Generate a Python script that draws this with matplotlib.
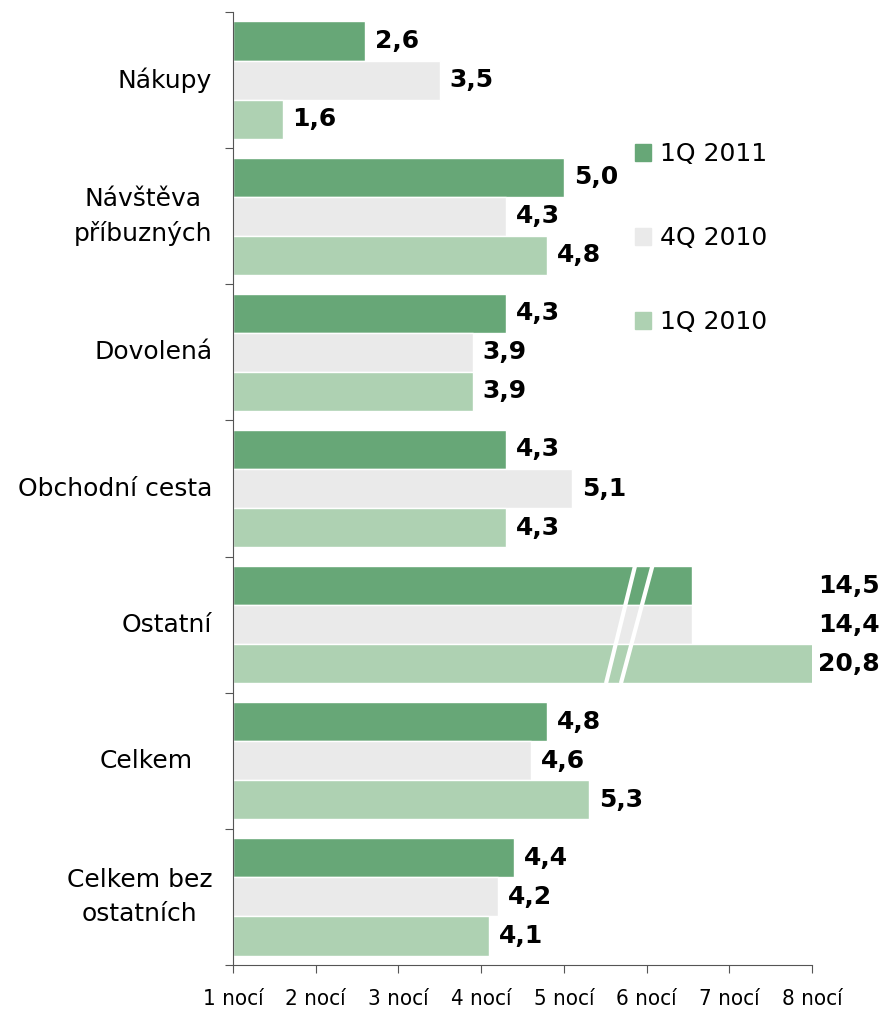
import matplotlib
matplotlib.use("Agg")
import matplotlib.pyplot as plt
from matplotlib.patches import Patch
import numpy as np

plt.rcParams['font.family'] = ['DejaVu Sans']

categories = ["Nákupy", "Návštěva\npříbuzných", "Dovolená", "Obchodní cesta",
              "Ostatní", "Celkem", "Celkem bez\nostatních"]
series = ["1Q 2011", "4Q 2010", "1Q 2010"]
q1_2011 = [2.6, 5.0, 4.3, 4.3, 14.5, 4.8, 4.4]
q4_2010 = [3.5, 4.3, 3.9, 5.1, 14.4, 4.6, 4.2]
q1_2010 = [1.6, 4.8, 3.9, 4.3, 20.8, 5.3, 4.1]
# the "Ostatni" bars are drawn shortened (axis break)
broken_idx = 4
broken_len = [6.55, 6.55, 8.05]
xticks = [1, 2, 3, 4, 5, 6, 7, 8]
xlabels = ["1 nocí", "2 nocí", "3 nocí", "4 nocí", "5 nocí", "6 nocí", "7 nocí", "8 nocí"]

colors = ["#67A777", "#EAEAEA", "#AED1B2"]

fig = plt.figure(figsize=(8.83, 10.11), dpi=100)
ax = fig.add_axes([233 / 883, 46 / 1011, 579 / 883, 953 / 1011])

y = np.arange(len(categories))
h = 0.287
offsets = [-h, 0, h]
for k, vals in enumerate([q1_2011, q4_2010, q1_2010]):
    lens = [broken_len[k] if i == broken_idx else v for i, v in enumerate(vals)]
    widths = np.array(lens) - 1
    ax.barh(y + offsets[k], widths, left=1, height=h, color=colors[k],
            edgecolor="white", linewidth=1, label=series[k])
    for i, v in enumerate(vals):
        txt = f"{v:.1f}".replace(".", ",")
        if i == broken_idx:
            ax.text(1.117, y[i] + offsets[k], txt, transform=ax.get_yaxis_transform(),
                    ha="right", va="center", fontsize=18, fontweight="bold")
        else:
            ax.text(v + 0.12, y[i] + offsets[k], txt, ha="left", va="center",
                    fontsize=18, fontweight="bold")

# break marks on the Ostatni bars
yt = broken_idx - 1.5 * h
yb = broken_idx + 1.5 * h
for xb, xt in [(5.51, 5.86), (5.69, 6.07)]:
    ax.plot([xb, xt], [yb, yt], color="white", lw=3, solid_capstyle="butt")

ax.set_xlim(1, 8)
ax.set_ylim(len(categories) - 0.5, -0.5)

for s in ["top", "right"]:
    ax.spines[s].set_visible(False)
ax.spines["left"].set_color("#555555")
ax.spines["bottom"].set_color("#555555")

ax.set_xticks(xticks)
ax.set_xticklabels(xlabels, fontsize=16, fontstretch="condensed")
ax.tick_params(axis="x", direction="out", length=6, pad=11, color="#555555")

ax.set_yticks(np.arange(len(categories) + 1) - 0.5)
ax.set_yticklabels([])
ax.tick_params(axis="y", direction="out", length=6, color="#555555")

for i, c in enumerate(categories):
    xr = -0.069 if c == "Celkem" else -0.036
    ax.text(xr, i, c, transform=ax.get_yaxis_transform(), ha="right",
            va="center", fontsize=18, multialignment="center", linespacing=1.5)

handles = [Patch(color=colors[k]) for k in range(3)]
fig.legend(handles, series, loc="upper left", bbox_to_anchor=(635 / 883, 1 - 142 / 1011),
           frameon=False, fontsize=18, labelspacing=2.4, handlelength=0.65,
           handleheight=0.65, handletextpad=0.35, borderpad=0, borderaxespad=0)

fig.savefig("out.png", dpi=100)
